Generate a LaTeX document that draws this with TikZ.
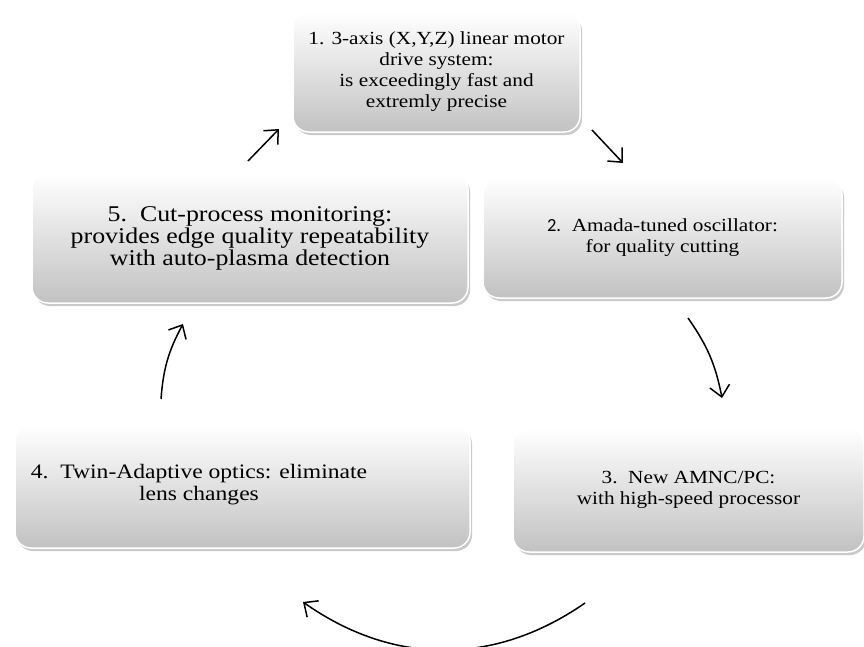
\documentclass[tikz,border=0pt]{standalone}
\usepackage{fontspec}
\setmainfont{Liberation Serif}[FakeStretch=1.15]
\setsansfont{Carlito}
\usetikzlibrary{arrows.meta,shadows}

\begin{document}
\begin{tikzpicture}[
    x=1pt,
    y=-1pt,
    stepbox/.style={rounded corners=16pt, inner sep=0pt, outer sep=0pt, align=center,
      top color=white, bottom color=black!24, draw=white, line width=1.5pt,
      drop shadow={shadow xshift=2pt, shadow yshift=-3pt, opacity=0.35, fill=black!60}},
    smalltext/.style={font=\fontsize{18.5}{21}\selectfont},
    largetext/.style={font=\fontsize{20.5}{22}\selectfont},
    cycarrow/.style={-{Straight Barb[length=11pt,width=20pt,line width=1.5pt]}, line width=1.5pt}
  ]
  \useasboundingbox (0,0) rectangle (864,646);

  \node[stepbox, smalltext, minimum width=287pt, minimum height=120pt] (s1) at (436.5,72)
    {1. 3-axis (X,Y,Z) linear motor\\drive system:\\is exceedingly fast and\\extremly precise};
  \node[stepbox, smalltext, minimum width=359pt, minimum height=120pt] (s2) at (662.5,238)
    {{\sffamily 2.}\ \ Amada-tuned oscillator:\\for quality cutting};
  \node[stepbox, smalltext, minimum width=351pt, minimum height=124pt] (s3) at (688.5,490)
    {3.\ \ New AMNC/PC:\\with high-speed processor};
  \node[stepbox, minimum width=455pt, minimum height=123pt] (s4) at (242.5,486.5) {};
  \node[largetext, align=center, inner sep=0pt] (s4text) at (199,485)
    {4.\ \ Twin-Adaptive optics: eliminate\\lens changes};
  \node[stepbox, font=\fontsize{22.5}{22}\selectfont, minimum width=436pt, minimum height=130pt] (s5) at (250,238)
    {5.\ \ Cut-process monitoring:\\provides edge quality repeatability\\with auto-plasma detection};

  \coordinate (a1s) at (592,130);
  \coordinate (a1e) at (623,163);
  \coordinate (a2s) at (688,318);
  \coordinate (a2e) at (722,398);
  \coordinate (a3s) at (585,603);
  \coordinate (a3e) at (303,602);
  \coordinate (a4s) at (161,399);
  \coordinate (a4e) at (183,324);
  \coordinate (a5s) at (248,161);
  \coordinate (a5e) at (279,129);

  \draw[cycarrow] (a1s) -- (a1e);
  \draw[cycarrow] (a2s) to[bend left=12] (a2e);
  \draw[cycarrow] (a3s) to[bend left=35] (a3e);
  \draw[cycarrow] (a4s) to[bend left=12] (a4e);
  \draw[cycarrow] (a5s) -- (a5e);
\end{tikzpicture}
\end{document}
